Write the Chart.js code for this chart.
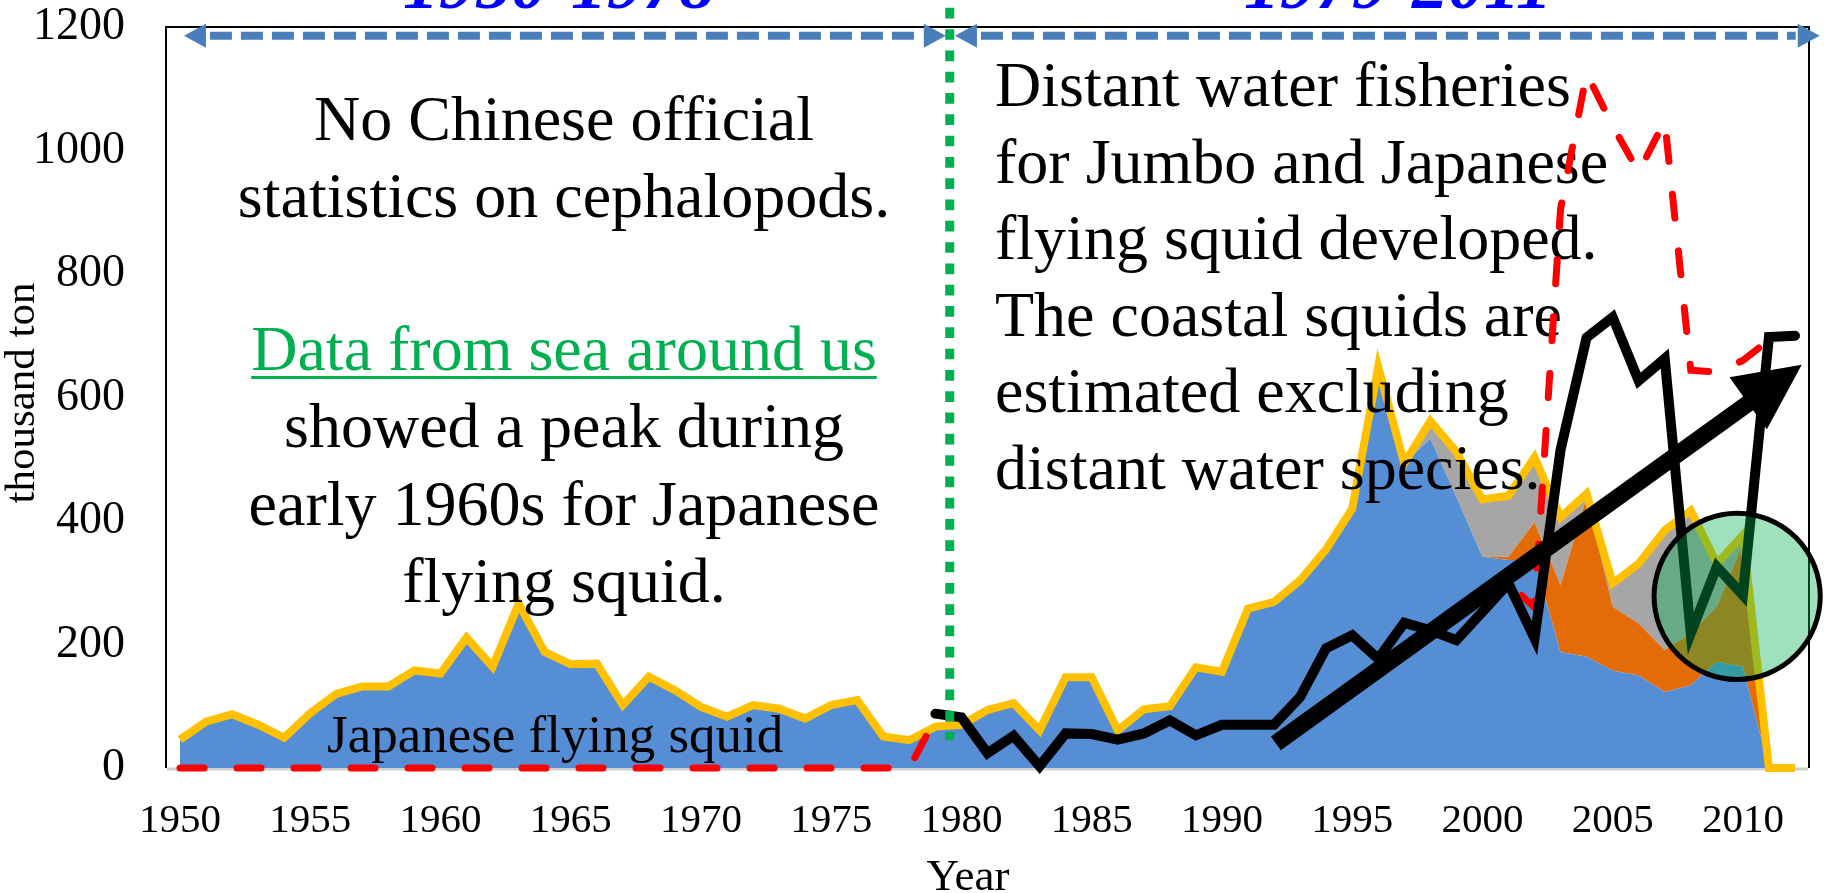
<!DOCTYPE html>
<html>
<head>
<meta charset="utf-8">
<title>Cephalopod catch, 1950-2012</title>
<script src="https://cdn.jsdelivr.net/npm/chart.js@4.4.1/dist/chart.umd.min.js"></script>
<style>
  html, body { margin: 0; padding: 0; background: #ffffff; }
  #wrap { position: relative; width: 1825px; height: 893px; }
</style>
</head>
<body>
<div id="wrap"><canvas id="chart" width="1825" height="893"></canvas></div>
<script>
// ---- categories -------------------------------------------------------
const years = [
  '1950','1951','1952','1953','1954','1955','1956','1957','1958','1959',
  '1960','1961','1962','1963','1964','1965','1966','1967','1968','1969',
  '1970','1971','1972','1973','1974','1975','1976','1977','1978','1979',
  '1980','1981','1982','1983','1984','1985','1986','1987','1988','1989',
  '1990','1991','1992','1993','1994','1995','1996','1997','1998','1999',
  '2000','2001','2002','2003','2004','2005','2006','2007','2008','2009',
  '2010','2011','2012'
];

// ---- stacked catch (thousand ton) ------------------------------------
const japaneseFlyingSquid = [
  46, 75, 87, 70, 49, 89, 120, 132, 132, 158,
  153, 211, 164, 266, 188, 168, 169, 102, 148, 126,
  99, 83, 102, 96, 80, 102, 110, 51, 45, 67,
  70, 94, 105, 61, 147, 147, 61, 95, 100, 163,
  156, 258, 269, 304, 354, 420, 650, 493, 533, 439,
  342, 337, 336, 188, 180, 158, 150, 123, 134, 172,
  164, 0, 0
];
const otherSquids = [
  0, 0, 0, 0, 0, 0, 0, 0, 0, 0,
  0, 0, 0, 0, 0, 0, 0, 0, 0, 0,
  0, 0, 0, 0, 0, 0, 0, 0, 0, 0,
  0, 0, 0, 0, 0, 0, 0, 0, 0, 0,
  0, 0, 0, 0, 0, 0, 0, 0, 0, 0,
  0, 5, 62, 108, 259, 103, 84, 68, 84, 89,
  199, 0, 0
];
const otherCephalopods = [
  0, 0, 0, 0, 0, 0, 0, 0, 0, 0,
  0, 0, 0, 0, 0, 0, 0, 0, 0, 0,
  0, 0, 0, 0, 0, 0, 0, 0, 0, 0,
  0, 0, 0, 0, 0, 0, 0, 0, 0, 0,
  0, 0, 0, 0, 0, 0, 0, 0, 29, 73,
  93, 99, 105, 110, 5, 38, 97, 194, 199, 70,
  14, 0, 0
];
const totalCatch = [
  46, 75, 87, 70, 49, 89, 120, 132, 132, 158,
  153, 211, 164, 266, 188, 168, 169, 102, 148, 126,
  99, 83, 102, 96, 80, 102, 110, 51, 45, 67,
  70, 94, 105, 61, 147, 147, 61, 95, 100, 163,
  156, 258, 269, 304, 354, 420, 650, 493, 562, 512,
  435, 441, 503, 406, 444, 299, 331, 385, 417, 331,
  377, 0, 0
];

// ---- line series (thousand ton) --------------------------------------
const withDistantWater = [
  0, 0, 0, 0, 0, 0, 0, 0, 0, 0,
  0, 0, 0, 0, 0, 0, 0, 0, 0, 0,
  0, 0, 0, 0, 0, 0, 0, 0, 0, 80,
  82, 24, 52, 3, 56, 55, 46, 56, 77, 53,
  70, 70, 70, 115, 194, 215, 177, 235, 223, 207,
  253, 299, 260, 905, 1125, 1040, 965, 1048, 644, 641,
  660, 693, null
];
const chineseStatistics = [
  null, null, null, null, null, null, null, null, null, null,
  null, null, null, null, null, null, null, null, null, null,
  null, null, null, null, null, null, null, null, null, 88,
  82, 24, 52, 3, 56, 55, 46, 56, 77, 53,
  70, 70, 70, 115, 194, 215, 177, 235, 223, 207,
  253, 299, 210, 515, 697, 730, 627, 663, 218, 326,
  280, 698, 700
];

// ---- axis ticks ---------------------------------------------------------
const yTicks = [0, 200, 400, 600, 800, 1000, 1200];
const yearLabelStep = 5;

// ---- annotation text -------------------------------------------------
const periodLabels = [
  { text: '1950-1978', x: 559 },
  { text: '1979-2011', x: 1398 }
];
const leftNote = [
  { text: 'No Chinese official', y: 140 },
  { text: 'statistics on cephalopods.', y: 217 },
  { text: 'Data from sea around us', y: 370, link: true },
  { text: 'showed a peak during', y: 447 },
  { text: 'early 1960s for Japanese', y: 525 },
  { text: 'flying squid.', y: 602 }
];
const rightNote = [
  'Distant water fisheries',
  'for Jumbo and Japanese',
  'flying squid developed.',
  'The coastal squids are',
  'estimated excluding',
  'distant water species.'
];
const areaLabel = 'Japanese flying squid';

// trend arrow and highlight, in (year, thousand ton)
const trendArrow = { from: [1992.07, 40], to: [2012.26, 653] };
const highlight = { center: [2009.78, 278], radiusYears: 3.19 };
const periodSplitYear = 1979.55;
const periodArrows = [[1950.15, 1979.4], [1979.75, 2012.95]];
const periodArrowLevel = 1186;

const SERIF = '"Liberation Serif", "Times New Roman", serif';

function yearPx(chart, yr) {
  return chart.scales.x.getPixelForValue(yr - Number(years[0]));
}

function blockArrow(ctx, x0, y0, x1, y1, shaft, headLen, headHalf) {
  const dx = x1 - x0, dy = y1 - y0;
  const len = Math.hypot(dx, dy);
  const ux = dx / len, uy = dy / len;
  const nx = -uy, ny = ux;
  const bx = x1 - ux * headLen, by = y1 - uy * headLen;
  const s = shaft / 2;
  ctx.beginPath();
  ctx.moveTo(x0 + nx * s, y0 + ny * s);
  ctx.lineTo(bx + nx * s, by + ny * s);
  ctx.lineTo(bx + nx * headHalf, by + ny * headHalf);
  ctx.lineTo(x1, y1);
  ctx.lineTo(bx - nx * headHalf, by - ny * headHalf);
  ctx.lineTo(bx - nx * s, by - ny * s);
  ctx.lineTo(x0 - nx * s, y0 - ny * s);
  ctx.closePath();
  ctx.fill();
}

function dashedDoubleArrow(ctx, xa, xb, y) {
  const head = 22, half = 12;
  ctx.save();
  ctx.strokeStyle = '#4a7ebb';
  ctx.fillStyle = '#4a7ebb';
  ctx.lineWidth = 8;
  ctx.setLineDash([22, 9]);
  ctx.beginPath();
  ctx.moveTo(xa + head + 4, y);
  ctx.lineTo(xb - head - 2, y);
  ctx.stroke();
  ctx.setLineDash([]);
  ctx.beginPath();
  ctx.moveTo(xa, y);
  ctx.lineTo(xa + head, y - half);
  ctx.lineTo(xa + head, y + half);
  ctx.closePath();
  ctx.fill();
  ctx.beginPath();
  ctx.moveTo(xb, y);
  ctx.lineTo(xb - head, y - half);
  ctx.lineTo(xb - head, y + half);
  ctx.closePath();
  ctx.fill();
  ctx.restore();
}

const decorations = {
  id: 'decorations',
  beforeDatasetsDraw(chart) {
    const { ctx, chartArea: a } = chart;
    ctx.save();
    // category axis line
    ctx.strokeStyle = '#d0d0d0';
    ctx.lineWidth = 3;
    ctx.beginPath();
    ctx.moveTo(a.left, a.bottom + 1);
    ctx.lineTo(a.right, a.bottom + 1);
    ctx.stroke();
    // plot frame
    ctx.strokeStyle = '#000000';
    ctx.lineWidth = 2;
    ctx.beginPath();
    ctx.moveTo(a.left - 1, a.bottom);
    ctx.lineTo(a.left - 1, a.top);
    ctx.lineTo(a.right + 1, a.top);
    ctx.lineTo(a.right + 1, a.bottom);
    ctx.stroke();
    ctx.restore();
  },
  beforeDatasetDraw(chart, args) {
    // notes sit above the areas, below the red and black lines
    if (args.index !== 4) return;
    const { ctx } = chart;
    ctx.save();
    ctx.textBaseline = 'alphabetic';
    ctx.font = '64px ' + SERIF;
    ctx.textAlign = 'center';
    const cx = 564;
    leftNote.forEach(line => {
      ctx.fillStyle = line.link ? '#00b050' : '#000000';
      ctx.fillText(line.text, cx, line.y);
      if (line.link) {
        const w = ctx.measureText(line.text).width;
        ctx.fillRect(cx - w / 2, line.y + 6, w, 3);
      }
    });
    ctx.fillStyle = '#000000';
    ctx.textAlign = 'left';
    rightNote.forEach((t, i) => ctx.fillText(t, 995, 106 + i * 76.6));
    ctx.font = '53px ' + SERIF;
    ctx.fillText(areaLabel, 327, 752);
    ctx.restore();
  },
  afterDatasetsDraw(chart) {
    const { ctx, scales: { y } } = chart;
    ctx.save();

    // trend arrow
    ctx.fillStyle = '#000000';
    blockArrow(ctx,
      yearPx(chart, trendArrow.from[0]), y.getPixelForValue(trendArrow.from[1]),
      yearPx(chart, trendArrow.to[0]), y.getPixelForValue(trendArrow.to[1]),
      17, 66, 32);

    // period split
    const sx = yearPx(chart, periodSplitYear);
    ctx.strokeStyle = '#00b050';
    ctx.lineWidth = 9;
    ctx.setLineDash([10.7, 10.6]);
    ctx.beginPath();
    ctx.moveTo(sx, y.getPixelForValue(1231));
    ctx.lineTo(sx, y.getPixelForValue(45));
    ctx.stroke();
    ctx.setLineDash([]);

    // period arrows
    const ay = y.getPixelForValue(periodArrowLevel);
    periodArrows.forEach(([a0, a1]) =>
      dashedDoubleArrow(ctx, yearPx(chart, a0), yearPx(chart, a1), ay));

    // highlighted recent years
    const hx = yearPx(chart, highlight.center[0]);
    const hy = y.getPixelForValue(highlight.center[1]);
    const r = yearPx(chart, highlight.center[0] + highlight.radiusYears) - hx;
    ctx.beginPath();
    ctx.arc(hx, hy, r, 0, Math.PI * 2);
    ctx.fillStyle = 'rgba(0, 176, 80, 0.38)';
    ctx.fill();
    ctx.lineWidth = 5;
    ctx.strokeStyle = '#000000';
    ctx.stroke();
    ctx.restore();
  },
  afterDraw(chart) {
    const { ctx } = chart;
    ctx.save();
    // period headings
    ctx.fillStyle = '#0000ff';
    ctx.font = 'italic bold 72px ' + SERIF;
    ctx.textAlign = 'center';
    ctx.textBaseline = 'alphabetic';
    periodLabels.forEach(p => ctx.fillText(p.text, p.x, 8));
    // axis titles
    ctx.fillStyle = '#000000';
    ctx.font = '45px ' + SERIF;
    ctx.fillText('Year', 968, 890);
    ctx.translate(23, 393);
    ctx.rotate(-Math.PI / 2);
    ctx.font = '43px ' + SERIF;
    ctx.textBaseline = 'middle';
    ctx.fillText('thousand ton', 0, 0);
    ctx.restore();
  }
};

const areaBase = { pointRadius: 0, borderWidth: 0, borderColor: 'transparent', stack: 'catch' };

const chart = new Chart(document.getElementById('chart'), {
  type: 'line',
  data: {
    labels: years,
    datasets: [
      Object.assign({ label: 'Japanese flying squid', data: japaneseFlyingSquid,
        backgroundColor: '#558ed5', fill: 'origin', order: 3 }, areaBase),
      Object.assign({ label: 'Other squids', data: otherSquids,
        backgroundColor: '#e36c09', fill: '-1', order: 4 }, areaBase),
      Object.assign({ label: 'Other cephalopods', data: otherCephalopods,
        backgroundColor: '#a6a6a6', fill: '-1', order: 5 }, areaBase),
      { label: 'Total', data: totalCatch, stack: 'total', fill: false, clip: 10,
        borderColor: '#ffc000', borderWidth: 8, pointRadius: 0,
        borderJoinStyle: 'miter', order: 2 },
      { label: 'Including distant water', data: withDistantWater, stack: 'distant', fill: false, clip: 10,
        borderColor: '#ff0000', borderWidth: 7, borderDash: [24, 33], borderCapStyle: 'round',
        pointRadius: 0, order: 1 },
      { label: 'Chinese statistics', data: chineseStatistics, stack: 'official', fill: false, clip: 10,
        borderColor: '#000000', borderWidth: 10, borderCapStyle: 'round', borderJoinStyle: 'miter',
        pointRadius: 0, order: 0 }
    ]
  },
  options: {
    responsive: false,
    animation: false,
    devicePixelRatio: 1,
    events: [],
    layout: { padding: { top: 27, right: 17, left: 0, bottom: 0 } },
    elements: { line: { tension: 0 } },
    plugins: { legend: { display: false }, tooltip: { enabled: false }, title: { display: false } },
    scales: {
      x: {
        offset: true,
        grid: { display: false, drawTicks: false },
        border: { display: false },
        ticks: {
          autoSkip: false, maxRotation: 0, minRotation: 0, padding: 29,
          color: '#000000', font: { family: SERIF, size: 41 },
          callback: (v, i) => (Number(years[i]) % yearLabelStep === 0 ? years[i] : '')
        },
        afterFit: s => { s.height = 125; s.paddingLeft = 0; s.paddingRight = 0; }
      },
      y: {
        stacked: true,
        min: yTicks[0], max: yTicks[yTicks.length - 1],
        grid: { display: false, drawTicks: false },
        border: { display: false },
        afterBuildTicks: s => { s.ticks = yTicks.map(v => ({ value: v })); },
        ticks: { padding: 42, color: '#000000', font: { family: SERIF, size: 46 },
          callback: v => String(v) },
        afterFit: s => { s.width = 167; s.paddingTop = 0; s.paddingBottom = 0; }
      }
    }
  },
  plugins: [decorations]
});
</script>
</body>
</html>
